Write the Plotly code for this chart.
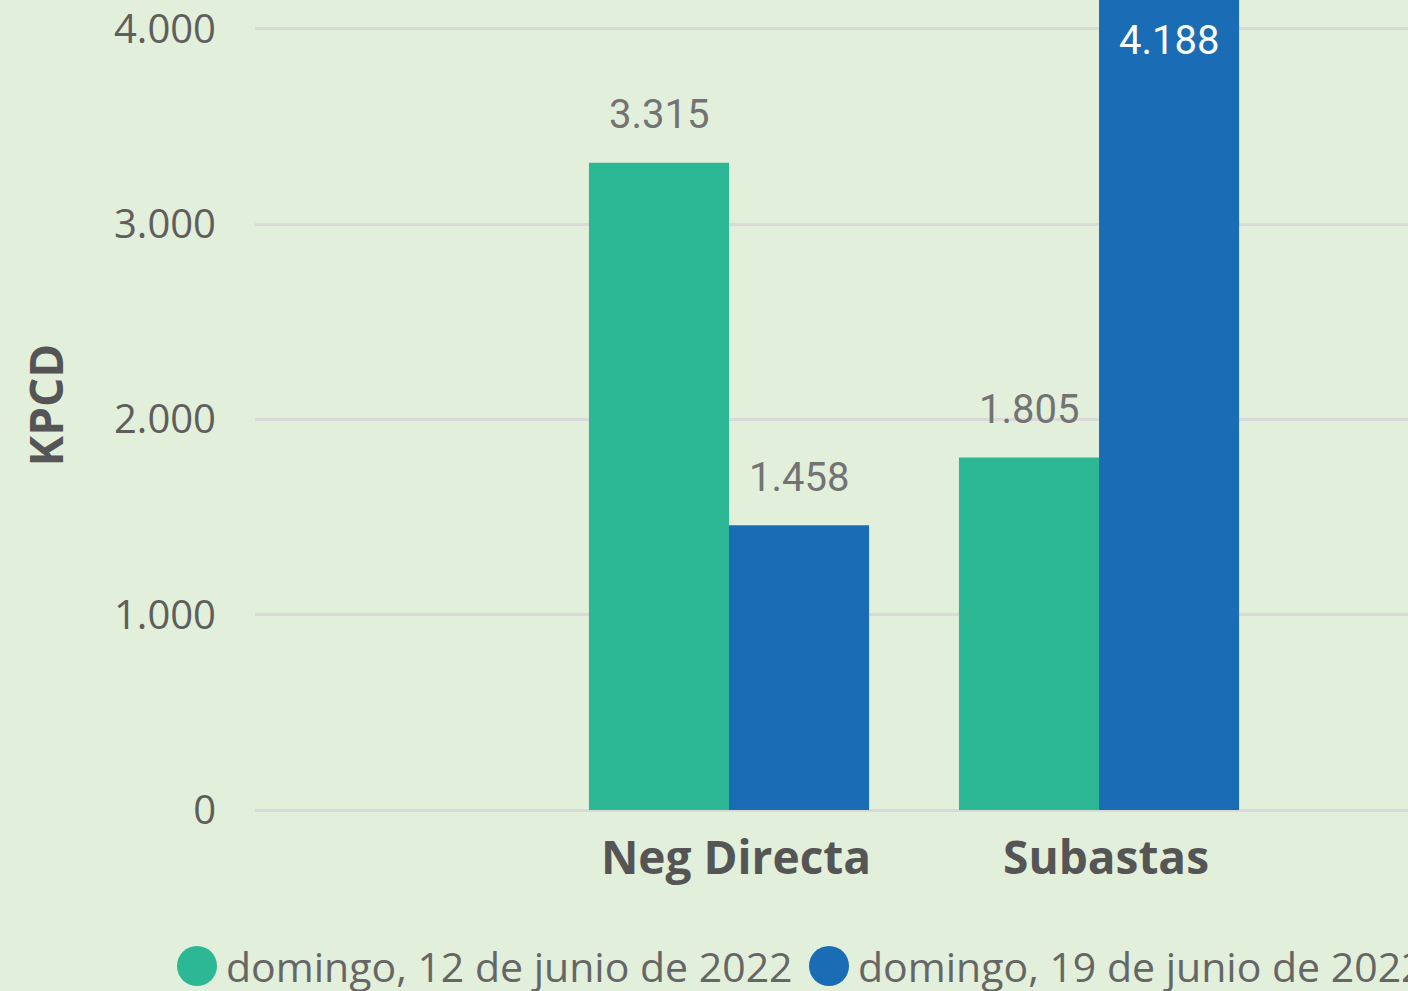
import plotly.graph_objects as go

categories = ["Neg Directa", "Subastas"]
series_names = ["domingo, 12 de junio de 2022", "domingo, 19 de junio de 2022"]
values_12 = [3315, 1805]
values_19 = [1458, 4188]
y_ticks = [0, 1000, 2000, 3000, 4000]
y_tick_labels = ["0", "1.000", "2.000", "3.000", "4.000"]

colors = ["#2CB894", "#1A6CB4"]
BG = "#E2EFDA"

X_RANGE = [-1.281, 1.835]
Y_RANGE = [0, 4148]
BARGAP = 0.243

fig = go.Figure()
for name, vals, col in zip(series_names, [values_12, values_19], colors):
    fig.add_trace(go.Bar(x=categories, y=vals, name=name, marker_color=col,
                         marker_line_width=0, showlegend=False))

def fmt(v):
    return f"{v:,}".replace(",", ".")

# data labels
half = (1 - BARGAP) / 4
for si, vals in enumerate([values_12, values_19]):
    off = -half if si == 0 else half
    for ci, v in enumerate(vals):
        xp = (ci + off - X_RANGE[0]) / (X_RANGE[1] - X_RANGE[0])
        yp = v / Y_RANGE[1]
        inside = v > Y_RANGE[1]
        fig.add_annotation(xref="paper", yref="paper", x=xp, y=yp, text=fmt(v),
                           showarrow=False, xanchor="center", yanchor="middle",
                           yshift=-48 if inside else 48,
                           font=dict(family="Roboto", size=40,
                                     color="#FFFFFF" if inside else "#737373"))

# manual legend
plot_w, plot_h = 1408 - 255, 810
def px2paper(px, py):
    return (px - 255) / plot_w, (810 - py) / plot_h
legend_items = [(197, 224), (829, 856)]
for (cx, tx), name, col in zip(legend_items, series_names, colors):
    x0, y0 = px2paper(cx - 20, 946)
    x1, y1 = px2paper(cx + 20, 986)
    fig.add_shape(type="circle", xref="paper", yref="paper", x0=x0, x1=x1, y0=y1, y1=y0,
                  fillcolor=col, line_width=0)
    txp, typ = px2paper(tx, 966)
    fig.add_annotation(xref="paper", yref="paper", x=txp, y=typ, text=name, showarrow=False,
                       xanchor="left", yanchor="middle",
                       font=dict(family="Open Sans", size=41, color="#666666"))

fig.update_layout(
    width=1408, height=991,
    margin=dict(l=255, r=0, t=0, b=181),
    paper_bgcolor=BG, plot_bgcolor=BG,
    barmode="group", bargap=BARGAP, bargroupgap=0,
    showlegend=False,
    xaxis=dict(type="category", range=X_RANGE, showgrid=False, zeroline=False,
               showline=False, ticks="",
               tickfont=dict(family="Open Sans", size=46, color="#555555", weight="bold"),
               ticklabelstandoff=17, ticklabelshift=7),
    yaxis=dict(range=Y_RANGE, tickvals=y_ticks, ticktext=y_tick_labels,
               showgrid=True, gridcolor="#D9D9D9", gridwidth=3,
               zeroline=True, zerolinecolor="#D9D9D9", zerolinewidth=3,
               showline=False, ticks="", ticklabelstandoff=38,
               ticklabeloverflow="allow",
               tickfont=dict(family="Open Sans", size=40, color="#605E5C"),
               title=dict(text="KPCD", standoff=35,
                          font=dict(family="Open Sans", size=46, color="#555555", weight="bold"))),
)

fig.write_html("out.html")
